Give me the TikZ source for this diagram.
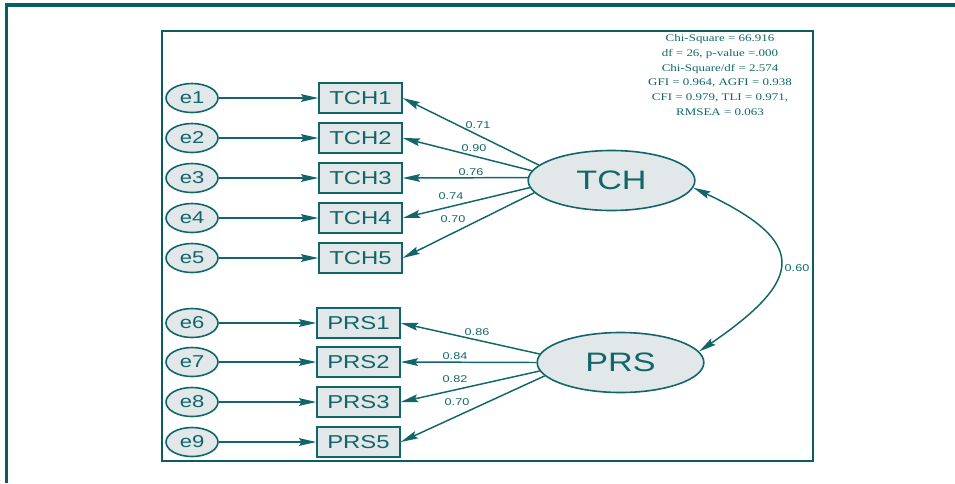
\documentclass[tikz,border=0pt]{standalone}
\usepackage{fontspec}
\setmainfont{Liberation Serif}[FakeStretch=1.28]
\newfontfamily\amosfont{Liberation Sans}[FakeStretch=1.28]
\usetikzlibrary{arrows.meta,shapes.geometric}
\definecolor{amos}{RGB}{16,102,104}
\definecolor{frameteal}{RGB}{10,94,98}
\definecolor{boxfill}{RGB}{226,231,233}
\begin{document}
\begin{tikzpicture}[x=.75pt,y=-.75pt,>={Stealth[length=13pt,width=5.8pt,inset=2pt]},line width=1.1pt,color=amos,
  err/.style={draw,ellipse,fill=boxfill,line width=1.2pt,minimum width=39pt,minimum height=21.75pt,inner sep=0pt,font=\amosfont\fontsize{12.9}{14}\selectfont},
  obs/.style={draw,rectangle,fill=boxfill,line width=1.3pt,minimum width=62pt,minimum height=22.5pt,inner sep=0pt,font=\amosfont\fontsize{14}{16}\selectfont},
  lat/.style={draw,ellipse,fill=boxfill,line width=1.2pt,minimum width=125pt,minimum height=45pt,inner sep=0pt,font=\amosfont\fontsize{20}{24}\selectfont},
  est/.style={inner sep=0pt,font=\amosfont\fontsize{7.4}{8}\selectfont}]
  \useasboundingbox (0,0) rectangle (955,483);
  % frames
  \draw[frameteal,line width=2.3pt] (6.5,483) -- (6.5,5) -- (955,5);
  \draw[frameteal,line width=1.5pt] (162,31) rectangle (813,461);
  % latent variables
  \node[lat] (TCH) at (611.5,180.5) {TCH};
  \node[lat] (PRS) at (620.5,362.5) {PRS};
  % indicators with their errors
  \foreach \i/\y in {1/98,2/138,3/178,4/218,5/258} {
    \node[err] (e\i) at (192,\y) {e\i};
    \node[obs] (TCH\i) at (360.5,\y) {TCH\i};
    \draw[->] (e\i) -- (TCH\i);
  }
  \foreach \e/\i/\y in {6/1/323,7/2/362,8/3/402,9/5/442} {
    \node[err] (e\e) at (192,\y) {e\e};
    \node[obs] (PRS\i) at (358.5,\y) {PRS\i};
    \draw[->] (e\e) -- (PRS\i);
  }
  % loadings
  \foreach \i/\a/\v/\lx/\ly in {1/168.5/0.71/478/125,2/173.5/0.90/474/148,3/178.3/0.76/471/172,4/185/0.74/451/196,5/189.3/0.70/453/219} {
    \draw[->] (TCH.\a) -- (TCH\i.east);
    \node[est] (lt\i) at (\lx,\ly) {\v};
  }
  \foreach \i/\a/\v/\lx/\ly in {1/174/0.86/477/332,2/180/0.84/455/356,3/186/0.82/455/379,5/190.7/0.70/457/402} {
    \draw[->] (PRS.\a) -- (PRS\i.east);
    \node[est] (lp\i) at (\lx,\ly) {\v};
  }
  % covariance
  \draw[<->] (TCH.-5) .. controls (808,242) and (805,279) .. (PRS.8);
  \node[est] (cov) at (797,268) {0.60};
  % fit indices
  \node[align=center,inner sep=0pt,font=\fontsize{7.6}{11.1}\selectfont] (gof) at (720,75)
    {Chi-Square = 66.916\\df = 26, p-value =.000\\Chi-Square/df = 2.574\\GFI = 0.964, AGFI = 0.938\\CFI = 0.979, TLI = 0.971,\\RMSEA = 0.063};
\end{tikzpicture}
\end{document}
